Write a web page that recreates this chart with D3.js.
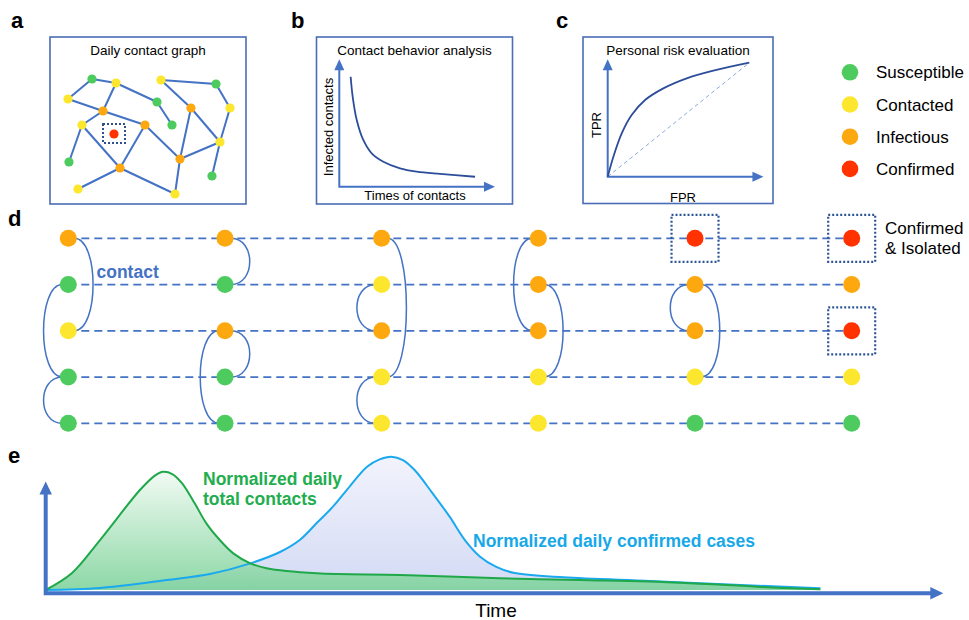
<!DOCTYPE html>
<html>
<head>
<meta charset="utf-8">
<script src="https://cdn.jsdelivr.net/npm/d3@7"></script>
<style>
body{margin:0;background:#fff}
svg text{font-family:"Liberation Sans",Arial,Helvetica,sans-serif}
</style>
</head>
<body>
<svg id="fig" width="969" height="620"></svg>
<script>
// node states
const stateNames = ["Susceptible", "Contacted", "Infectious", "Confirmed"]
const stateColors = ["#4ecb5f", "#fde62e", "#fda80f", "#ff3200"]

// panel a : daily contact graph, [x, y, state] inside the box
const netNodes = [
	[42,42,0],[66,46,1],[18,62,1],[107,65,0],[53,74,2],[32,88,1],[64,97,3],
	[95,88,2],[122,88,0],[111,43,1],[166,47,0],[141,71,2],[180,71,1],
	[170,105,1],[130,122,2],[19,125,0],[70,131,2],[162,139,0],[28,152,1],[125,157,1]
]
const netEdges = [
	[0,1],[0,2],[2,4],[1,4],[1,3],[3,8],[4,5],[4,7],[5,15],[5,16],[7,16],[7,14],
	[16,18],[16,19],[14,19],[14,11],[14,13],[9,10],[9,11],[10,12],[12,13],[11,13],[13,17]
]

// panel b : infected contacts vs times of contacts
const decayX = [0.073,0.086,0.112,0.154,0.208,0.283,0.39,0.497,0.647,0.872]
const decayY = [0.863,0.706,0.524,0.367,0.262,0.196,0.144,0.118,0.1,0.078]

// panel c : ROC curve
const rocX = [0,0.04,0.099,0.169,0.264,0.393,0.558,0.746,1]
const rocY = [0,0.175,0.38,0.541,0.673,0.775,0.863,0.93,1]

// panel d : state of each person (row) on each day (column)
const timeline = [
	[2,0,1,0,0],
	[2,0,2,0,0],
	[2,1,2,1,1],
	[2,2,2,1,1],
	[3,2,2,1,0],
	[3,2,3,1,0]
]
// contacts: [day, person, person, side]
const contacts = [
	[0,0,2,"R"],[0,1,3,"L"],[0,3,4,"L"],
	[1,0,1,"R"],[1,2,3,"R"],[1,2,4,"L"],
	[2,0,3,"R"],[2,1,2,"L"],[2,3,4,"L"],
	[3,0,2,"L"],[3,1,3,"R"],
	[4,1,2,"L"],[4,1,3,"R"]
]

// panel e : normalized curves over time
const contactT = [0,2.9,6.05,10.5,12.2,13.1,14.1,15.2,16.6,17.9,19.4,20.9,22.8,24.6,30.2,39.5,50.6,59.5,70.7,79.6,86.3]
const contactV = [0,0.125,0.375,0.75,0.86,0.887,0.87,0.8,0.65,0.5,0.375,0.275,0.2,0.163,0.125,0.113,0.088,0.075,0.055,0.023,0.005]
const confirmT = [0,6.05,13.5,18.3,22.8,26.1,28.3,30.3,32,33.9,35.8,37.2,38.5,39.8,41.1,43,45,46.7,48.4,50.2,52.1,57.7,67.3,77.4,86.3]
const confirmV = [0,0.015,0.075,0.12,0.2,0.285,0.375,0.51,0.625,0.78,0.925,0.98,1,0.975,0.9,0.735,0.55,0.375,0.25,0.173,0.13,0.095,0.068,0.038,0.013]

const blue = "#4472c4"
const navy = "#2c4d9a"
const svg = d3.select("#fig")

function arrowHead(x, y, dir, len, wid, color){
	// dir: "up" or "right"
	let p = dir==="up"
		? [[x,y],[x-wid/2,y+len],[x+wid/2,y+len]]
		: [[x,y],[x-len,y-wid/2],[x-len,y+wid/2]]
	svg.append("path")
		.attr("d", "M"+p.join("L")+"Z")
		.attr("fill", color)
}

function panelLetter(t, x, y){
	svg.append("text")
		.attr("x", x).attr("y", y)
		.attr("font-size", 22).attr("font-weight", "bold")
		.text(t)
}

function panelBox(x0, y0, x1, y1, title){
	svg.append("rect")
		.attr("x", x0).attr("y", y0)
		.attr("width", x1-x0).attr("height", y1-y0)
		.attr("fill", "none").attr("stroke", "#4a6db5").attr("stroke-width", 1.6)
	svg.append("text")
		.attr("x", (x0+x1)/2).attr("y", 55)
		.attr("text-anchor", "middle").attr("font-size", 13.5)
		.text(title)
}

panelLetter("a", 11, 28)
panelLetter("b", 291, 28)
panelLetter("c", 556, 28)
panelLetter("d", 8, 226)
panelLetter("e", 8, 463)

// ---------- a
panelBox(50, 37, 246, 204, "Daily contact graph")
let ax = d3.scaleLinear().domain([0,196]).range([50,246])
let ay = d3.scaleLinear().domain([0,167]).range([37,204])
svg.append("g").selectAll("line")
	.data(netEdges).join("line")
	.attr("x1", d=>ax(netNodes[d[0]][0])).attr("y1", d=>ay(netNodes[d[0]][1]))
	.attr("x2", d=>ax(netNodes[d[1]][0])).attr("y2", d=>ay(netNodes[d[1]][1]))
	.attr("stroke", blue).attr("stroke-width", 2)
svg.append("g").selectAll("rect")
	.data(netNodes.filter(n=>n[2]===3)).join("rect")
	.attr("x", d=>ax(d[0])-11).attr("y", d=>ay(d[1])-10)
	.attr("width", 22).attr("height", 19)
	.attr("fill", "none").attr("stroke", "#2f4f8f")
	.attr("stroke-width", 2).attr("stroke-dasharray", "2,2")
svg.append("g").selectAll("circle")
	.data(netNodes).join("circle")
	.attr("cx", d=>ax(d[0])).attr("cy", d=>ay(d[1])).attr("r", 4.6)
	.attr("fill", d=>stateColors[d[2]])

// ---------- b
panelBox(316.5, 37, 512.5, 204, "Contact behavior analysis")
let bx = d3.scaleLinear().domain([0,1]).range([339.3,495])
let by = d3.scaleLinear().domain([0,1]).range([186.7,59.3])
svg.append("path")
	.attr("d", d3.line()([[bx(0),by(1)+9],[bx(0),by(0)],[bx(1)-9,by(0)]]))
	.attr("fill", "none").attr("stroke", blue).attr("stroke-width", 2)
arrowHead(bx(0), by(1), "up", 11, 10, blue)
arrowHead(bx(1), by(0), "right", 11, 10, blue)
svg.append("path")
	.attr("d", d3.line().curve(d3.curveCatmullRom)
		.x((d,i)=>bx(decayX[i])).y(d=>by(d))(decayY))
	.attr("fill", "none").attr("stroke", navy).attr("stroke-width", 1.8)
svg.append("text")
	.attr("transform", "translate(333,127) rotate(-90)")
	.attr("text-anchor", "middle").attr("font-size", 13)
	.text("Infected contacts")
svg.append("text")
	.attr("x", 415).attr("y", 200)
	.attr("text-anchor", "middle").attr("font-size", 13)
	.text("Times of contacts")

// ---------- c
panelBox(583, 37, 773, 203.5, "Personal risk evaluation")
let cx = d3.scaleLinear().domain([0,1]).range([607.7,749.3])
let cy = d3.scaleLinear().domain([0,1]).range([176.7,62.7])
svg.append("line")
	.attr("x1", cx(0)).attr("y1", cy(0)).attr("x2", cx(1)).attr("y2", cy(1))
	.attr("stroke", "#8eaadc").attr("stroke-width", 1).attr("stroke-dasharray", "4,3")
svg.append("path")
	.attr("d", d3.line()([[cx(0),cy(1.03)+9],[cx(0),cy(0)],[cx(1.1)-9,cy(0)]]))
	.attr("fill", "none").attr("stroke", blue).attr("stroke-width", 2)
arrowHead(cx(0), cy(1.03), "up", 11, 10, blue)
arrowHead(cx(1.1), cy(0), "right", 11, 10, blue)
svg.append("path")
	.attr("d", d3.line().curve(d3.curveCatmullRom)
		.x((d,i)=>cx(rocX[i])).y(d=>cy(d))(rocY))
	.attr("fill", "none").attr("stroke", navy).attr("stroke-width", 1.8)
svg.append("text")
	.attr("transform", "translate(601,125) rotate(-90)")
	.attr("text-anchor", "middle").attr("font-size", 13)
	.text("TPR")
svg.append("text")
	.attr("x", 683).attr("y", 202)
	.attr("text-anchor", "middle").attr("font-size", 13)
	.text("FPR")

// ---------- legend
let legend = svg.append("g").selectAll("g")
	.data(stateNames).join("g")
	.attr("transform", (d,i)=>`translate(850,${72.3+i*32.2})`)
legend.append("circle").attr("r", 8.3).attr("fill", (d,i)=>stateColors[i])
legend.append("text").attr("x", 26).attr("y", 6).attr("font-size", 17).text(d=>d)

// ---------- d
let dx = d3.scaleLinear().domain([0,5]).range([68.3,851.7])
let dy = d3.scaleLinear().domain([0,4]).range([238.3,423.3])
let nodeR = 8.5
svg.append("g").selectAll("line")
	.data(d3.range(5)).join("line")
	.attr("x1", dx(0)).attr("x2", dx(5))
	.attr("y1", d=>dy(d)).attr("y2", d=>dy(d))
	.attr("stroke", blue).attr("stroke-width", 1.8).attr("stroke-dasharray", "8,5")
svg.append("g").selectAll("path")
	.data(contacts).join("path")
	.attr("d", d=>{
		let s = d[3]==="R" ? 1 : -1
		let x0 = dx(d[0])+s*6, k = s*25
		let y1 = dy(d[1]), y2 = dy(d[2])
		return `M${x0},${y1}C${x0+k},${y1} ${x0+k},${y2} ${x0},${y2}`
	})
	.attr("fill", "none").attr("stroke", blue).attr("stroke-width", 1.5)
let cells = timeline.flatMap((col,i)=>col.map((s,j)=>({day:i, row:j, s:s})))
svg.append("g").selectAll("rect")
	.data(cells.filter(c=>c.s===3)).join("rect")
	.attr("x", d=>dx(d.day)-23.5).attr("y", d=>dy(d.row)-23.5)
	.attr("width", 47).attr("height", 47)
	.attr("fill", "none").attr("stroke", "#2f5597")
	.attr("stroke-width", 2.2).attr("stroke-dasharray", "2,2")
svg.append("g").selectAll("circle")
	.data(cells).join("circle")
	.attr("cx", d=>dx(d.day)).attr("cy", d=>dy(d.row)).attr("r", nodeR)
	.attr("fill", d=>stateColors[d.s])
svg.append("text")
	.attr("x", 96.5).attr("y", 278)
	.attr("font-size", 17.5).attr("font-weight", "bold").attr("fill", blue)
	.text("contact")
svg.append("text")
	.attr("x", 885).attr("y", 234).attr("font-size", 17)
	.text("Confirmed")
svg.append("text")
	.attr("x", 885).attr("y", 254).attr("font-size", 17)
	.text("& Isolated")

// ---------- e
let ex = d3.scaleLinear().domain([0,100]).range([45.7,943.3])
let ey = d3.scaleLinear().domain([0,1]).range([590,456.7])
let defs = svg.append("defs")
let gb = defs.append("linearGradient").attr("id", "gBlue")
	.attr("gradientUnits", "userSpaceOnUse")
	.attr("x1", 0).attr("x2", 0).attr("y1", ey(1)).attr("y2", ey(0))
gb.append("stop").attr("offset", 0).attr("stop-color", "#f2f3fc")
gb.append("stop").attr("offset", 1).attr("stop-color", "#d3daf4")
let gg = defs.append("linearGradient").attr("id", "gGreen")
	.attr("gradientUnits", "userSpaceOnUse")
	.attr("x1", 0).attr("x2", 0).attr("y1", ey(0.89)).attr("y2", ey(0))
gg.append("stop").attr("offset", 0).attr("stop-color", "#f0faf2")
gg.append("stop").attr("offset", 1).attr("stop-color", "#78d196")

let confirmed = confirmT.map((t,i)=>[t, confirmV[i]])
let contactsE = contactT.map((t,i)=>[t, contactV[i]])
let area = d3.area().curve(d3.curveCatmullRom)
	.x(d=>ex(d[0])).y0(ey(0)).y1(d=>ey(d[1]))
let line = d3.line().curve(d3.curveCatmullRom)
	.x(d=>ex(d[0])).y(d=>ey(d[1]))
svg.append("path").attr("d", area(confirmed)).attr("fill", "url(#gBlue)")
svg.append("path").attr("d", area(contactsE)).attr("fill", "url(#gGreen)").attr("opacity", 0.85)
svg.append("path").attr("d", line(confirmed))
	.attr("fill", "none").attr("stroke", "#1aa9ef").attr("stroke-width", 2)
svg.append("path").attr("d", line(contactsE))
	.attr("fill", "none").attr("stroke", "#1fa84a").attr("stroke-width", 2)

svg.append("path")
	.attr("d", d3.line()([[ex(0),ey(0)-96],[ex(0),593.3],[ex(100)-10,593.3]]))
	.attr("fill", "none").attr("stroke", blue).attr("stroke-width", 4)
arrowHead(ex(0), 481.5, "up", 13, 12.5, blue)
arrowHead(ex(100), 593.3, "right", 13, 12.5, blue)

svg.append("text")
	.attr("x", 203).attr("y", 485)
	.attr("font-size", 17.5).attr("font-weight", "bold").attr("fill", "#22ad4e")
	.text("Normalized daily")
svg.append("text")
	.attr("x", 203).attr("y", 505)
	.attr("font-size", 17.5).attr("font-weight", "bold").attr("fill", "#22ad4e")
	.text("total contacts")
svg.append("text")
	.attr("x", 473).attr("y", 547)
	.attr("font-size", 17.5).attr("font-weight", "bold").attr("fill", "#17a8e8")
	.text("Normalized daily confirmed cases")
svg.append("text")
	.attr("x", 496).attr("y", 617)
	.attr("text-anchor", "middle").attr("font-size", 19)
	.text("Time")
</script>
</body>
</html>
